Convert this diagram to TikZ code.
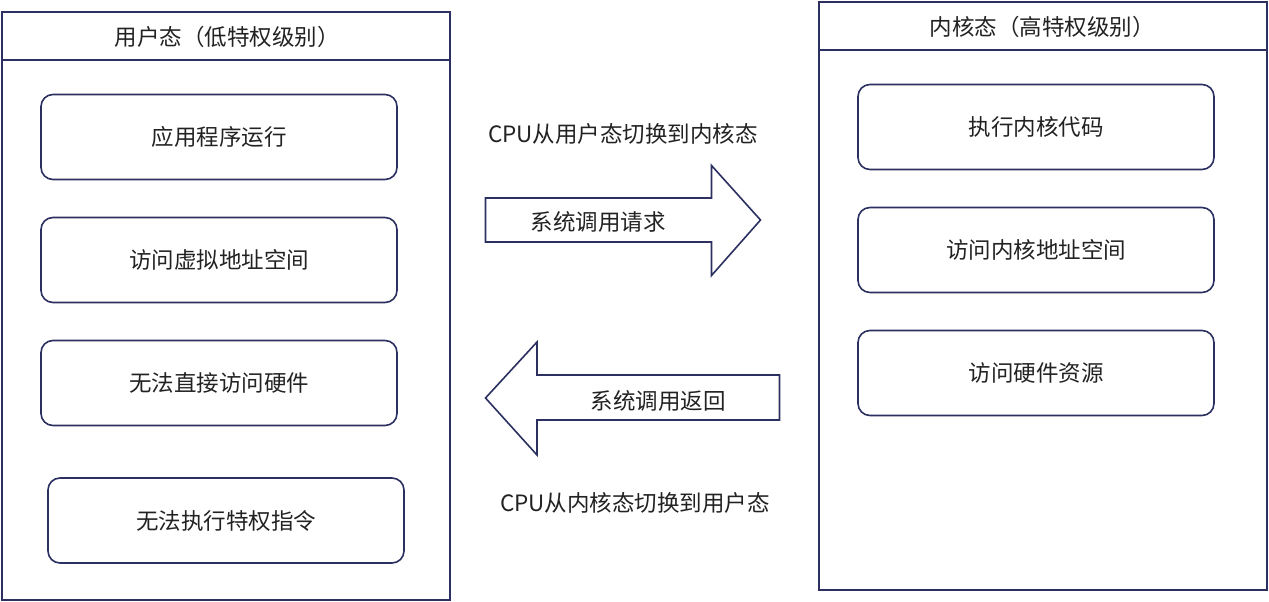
\documentclass[tikz,border=0pt]{standalone}
\usepackage{fontspec}
\setmainfont{Noto Sans CJK SC}
\definecolor{navy}{HTML}{2B3060}
\definecolor{txt}{HTML}{222222}
\tikzset{
  container/.style={draw=navy,line width=1.8pt,rectangle,minimum width=448pt,minimum height=588pt,inner sep=0pt},
  itembox/.style={draw=navy,line width=1.6pt,rectangle,rounded corners=12pt,minimum width=356pt,minimum height=85pt,inner sep=0pt,text=txt,font=\fontsize{22.5}{27}\selectfont},
  label/.style={text=txt,font=\fontsize{22.5}{27}\selectfont,inner sep=0pt},
  bigarrow/.style={draw=navy,line width=1.6pt,fill=white,line join=miter}
}
\begin{document}
\begin{tikzpicture}[x=1pt,y=-1pt]
\useasboundingbox (0,0) rectangle (1269,602);
% containers
\node[container] (user) at (226,306) {};
\node[container] (kern) at (1043,296) {};
\draw[draw=navy,line width=1.8pt] (user.west |- 0,60) -- (user.east |- 0,60);
\draw[draw=navy,line width=1.8pt] (kern.west |- 0,50) -- (kern.east |- 0,50);
\node[label] (usertitle) at (227,37) {用户态（低特权级别）};
\node[label] (kerntitle) at (1042,27) {内核态（高特权级别）};
% left items
\node[itembox] (u1) at (219,137) {应用程序运行};
\node[itembox] (u2) at (219,260) {访问虚拟地址空间};
\node[itembox] (u3) at (219,383) {无法直接访问硬件};
\node[itembox] (u4) at (226,520.5) {无法执行特权指令};
% right items
\node[itembox] (k1) at (1036,127) {执行内核代码};
\node[itembox] (k2) at (1036,250) {访问内核地址空间};
\node[itembox] (k3) at (1036,373) {访问硬件资源};
% arrows
\draw[bigarrow] (485.5,198) -- (711.5,198) -- (711.5,165.5) -- (760.5,220) -- (711.5,275.5) -- (711.5,242) -- (485.5,242) -- cycle;
\draw[bigarrow] (779.5,375) -- (537,375) -- (537,342) -- (485.5,398) -- (537,455) -- (537,420) -- (779.5,420) -- cycle;
\node[label] (req) at (598,222) {系统调用请求};
\node[label] (ret) at (658,401) {系统调用返回};
\node[label] (cpu1) at (623,134) {CPU从用户态切换到内核态};
\node[label] (cpu2) at (635,503) {CPU从内核态切换到用户态};
\end{tikzpicture}
\end{document}
